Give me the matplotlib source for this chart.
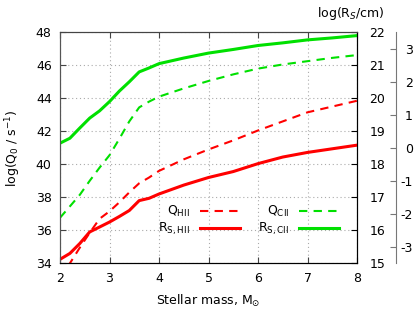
import matplotlib.pyplot as plt

plt.rcParams['font.family'] = 'DejaVu Sans'
plt.rcParams['axes.unicode_minus'] = False

# stellar mass grid (M_sun)
mass = [2.0, 2.2, 2.4, 2.6, 2.8, 3.0, 3.2, 3.4, 3.6, 3.8, 4.0, 4.5, 5.0, 5.5, 6.0, 6.5, 7.0, 7.5, 8.0]

# ionising photon rates, log(Q0 / s^-1)
q_hii = [33.1, 34.0, 34.95, 35.85, 36.7, 37.15, 37.7, 38.3, 38.85, 39.2, 39.6, 40.3, 40.9, 41.45, 42.05, 42.6, 43.15, 43.5, 43.85]
q_cii = [36.76, 37.45, 38.15, 39.0, 39.8, 40.55, 41.55, 42.6, 43.45, 43.8, 44.1, 44.6, 45.05, 45.45, 45.8, 46.05, 46.25, 46.45, 46.62]

# Stromgren radii, log(R_S / cm)
rs_hii = [15.12, 15.3, 15.6, 15.95, 16.1, 16.25, 16.42, 16.6, 16.9, 16.97, 17.1, 17.37, 17.6, 17.78, 18.02, 18.22, 18.36, 18.47, 18.58]
rs_cii = [18.64, 18.79, 19.1, 19.4, 19.62, 19.9, 20.22, 20.5, 20.8, 20.92, 21.05, 21.22, 21.37, 21.48, 21.6, 21.68, 21.77, 21.83, 21.9]

LOG_PC = 18.49  # log10(1 pc / cm)

red = '#ff0000'
green = '#00e000'

fig = plt.figure(figsize=(4.15, 3.12), dpi=100)
ax = fig.add_axes([60 / 415, 1 - 263.3 / 312, 297 / 415, 231 / 312])
axr = ax.twinx()
axp = ax.twinx()
axp.spines['right'].set_position(('axes', (396 - 60) / 297))

l1, = ax.plot(mass, q_hii, color=red, lw=1.5, dashes=(4, 3), label=r'Q$_{\rm HII}$')
l3, = ax.plot(mass, q_cii, color=green, lw=1.5, dashes=(4, 3), label=r'Q$_{\rm CII}$')
l2, = axr.plot(mass, rs_hii, color=red, lw=2.2, label=r'R$_{\rm S,HII}$')
l4, = axr.plot(mass, rs_cii, color=green, lw=2.2, label=r'R$_{\rm S,CII}$')

ax.set_xlim(2, 8)
ax.set_ylim(34, 48)
axr.set_ylim(15, 22)
axp.set_ylim(15 - LOG_PC, 22 - LOG_PC)

ax.set_xticks(range(2, 9))
ax.set_yticks(range(34, 49, 2))
axr.set_yticks(range(15, 23))
axp.set_yticks(range(-3, 4))

ax.grid(True, color='#aaaaaa', linestyle=(0, (1, 2.5)), linewidth=0.8)

ax.tick_params(axis='both', direction='in', length=4, labelsize=9, top=True, color='#444444')
ax.tick_params(axis='x', pad=6)
ax.tick_params(axis='y', pad=6)
axr.tick_params(axis='y', direction='in', length=4, labelsize=9, pad=9, color='black')
axp.tick_params(axis='y', direction='in', length=4, labelsize=9, pad=12, color='#777777')
for tick in axp.yaxis.get_major_ticks():
    tick.label2.set_horizontalalignment('right')

axp.spines['right'].set_color('#777777')
for s in ('left', 'top', 'bottom'):
    axp.spines[s].set_visible(False)
ax.spines['left'].set_color('#555555')
ax.spines['top'].set_color('#444444')
axr.spines['left'].set_color('#555555')
axr.spines['top'].set_color('#444444')
axr.spines['right'].set_color('black')

ax.set_xlabel(r'Stellar mass, M$_{\odot}$', fontsize=9, labelpad=6)
fig.text(13 / 415, 1 - 148 / 312, r'log(Q$_0$ / s$^{-1}$)', rotation=90,
         ha='center', va='center', fontsize=9)
fig.text(351 / 415, 1 - 14 / 312, r'log(R$_S$/cm)', ha='center', va='center', fontsize=9)

leg = axp.legend(handles=[l1, l2, l3, l4], ncol=2, markerfirst=False, frameon=False,
                 fontsize=9, loc='center right', bbox_to_anchor=(0.94, 0.185),
                 handlelength=3.2, handletextpad=0.8, columnspacing=1.45,
                 labelspacing=0.15, borderpad=0, borderaxespad=0)

fig.savefig('out.png', dpi=100)
